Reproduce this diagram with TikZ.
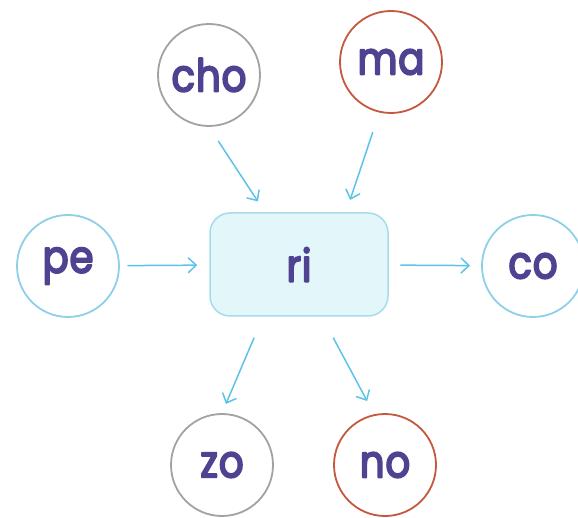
\documentclass[tikz,border=0pt]{standalone}
\usepackage{fontspec}
\setmainfont{Poppins}
\newfontfamily\sylfont{Poppins}[FakeBold=4,FakeStretch=0.86,LetterSpace=2]
\usetikzlibrary{arrows.meta}
\definecolor{sylcol}{HTML}{4F4290}
\definecolor{arrcol}{HTML}{5CC3E8}
\definecolor{grycol}{HTML}{A2A2A2}
\definecolor{redcol}{HTML}{C4583F}
\definecolor{blucol}{HTML}{8DD0E7}
\definecolor{boxfill}{HTML}{E3F7FB}
\definecolor{boxline}{HTML}{A6DCEA}
\begin{document}
\begin{tikzpicture}[x=1pt,y=-1pt,line join=round,line cap=round,>={Straight Barb[length=8pt,width=15pt]},thick]
	\tikzset{every node/.style={font=\sylfont\fontsize{45}{45}\selectfont,text=sylcol},
		syl/.style={circle,draw=#1,line width=1.8pt,minimum size=102pt,inner sep=0pt},
		link/.style={->,draw=arrcol,line width=1.5pt}}
	\useasboundingbox (0,0) rectangle (578,518);
	% middle box
	\node[rounded corners=20pt,draw=boxline,fill=boxfill,line width=1.5pt,minimum width=178pt,minimum height=103pt] (ri) at (299,264.5) {ri};
	% syllables round it
	\node[syl=grycol] (cho) at (209,75) {cho};
	\node[syl=redcol] (ma) at (391,62) {ma};
	\node[syl=blucol] (pe) at (68,266) {pe};
	\node[syl=blucol] (co) at (533,266) {co};
	\node[syl=grycol] (zo) at (222,465) {zo};
	\node[syl=redcol] (no) at (385,465) {no};
	% arrows
	\draw[link,shorten <=17pt,shorten >=13pt] (cho.south) -- ([xshift=-34pt]ri.north);
	\draw[link,shorten <=21pt,shorten >=13pt] (ma.-103) -- ([xshift=47pt]ri.north);
	\draw[link,shorten <=8pt,shorten >=12pt] (pe) -- (ri);
	\draw[link,shorten <=12pt,shorten >=11pt] (ri) -- (co);
	\draw[link,shorten <=23pt,shorten >=10pt] ([xshift=-36pt]ri.south) -- (zo.north);
	\draw[link,shorten <=24pt,shorten >=15pt] ([xshift=23pt]ri.south) -- (no.102);
\end{tikzpicture}
\end{document}
